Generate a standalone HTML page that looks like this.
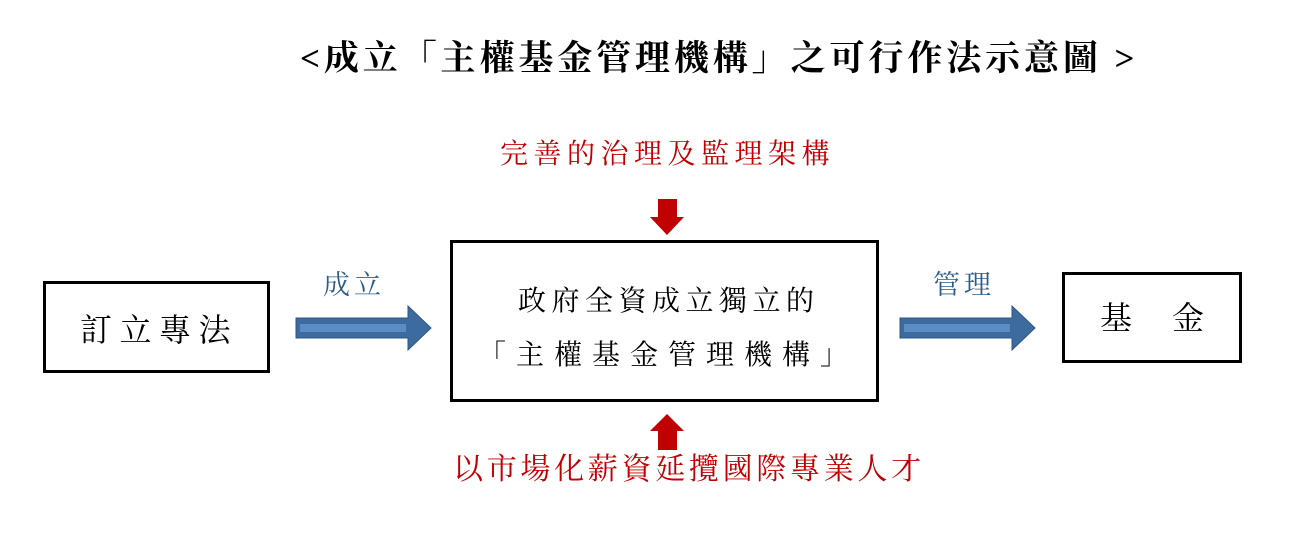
<!DOCTYPE html>
<html><head><meta charset="utf-8"><style>
body{margin:0;width:1293px;height:559px;background:#fff;position:relative;overflow:hidden;font-family:"Liberation Serif","Noto Serif CJK SC",serif}
.t{position:absolute;white-space:nowrap;line-height:1}
.box{position:absolute;border:3px solid #000;box-sizing:border-box}
</style></head><body>
<div class="t" style="left:300px;top:41px;font-size:35px;font-weight:bold;letter-spacing:3.9px">&lt;成立「主權基金管理機構」之可行作法示意圖 &gt;</div>
<div class="t" style="left:500px;top:141px;font-size:28px;letter-spacing:5.5px;color:#c00000">完善的治理及監理架構</div>
<div class="t" style="left:453px;top:455px;font-size:30px;letter-spacing:3.7px;color:#c00000">以市場化薪資延攬國際專業人才</div>
<div class="box" style="left:43px;top:281px;width:227px;height:92px"></div>
<div class="t" style="left:80px;top:314px;font-size:32px;letter-spacing:7.5px">訂立專法</div>
<div class="box" style="left:450px;top:240px;width:429px;height:162px"></div>
<div class="t" style="left:518px;top:288px;font-size:28px;letter-spacing:5.5px">政府全資成立獨立的</div>
<div class="t" style="left:478px;top:342px;font-size:28px;letter-spacing:10px">「主權基金管理機構」</div>
<div class="box" style="left:1062px;top:272px;width:180px;height:91px"></div>
<div class="t" style="left:1100px;top:302px;font-size:32px">基　 金</div>
<div class="t" style="left:323px;top:272px;font-size:27px;letter-spacing:4px;color:#2e5c8a">成立</div>
<div class="t" style="left:933px;top:272px;font-size:27px;letter-spacing:4px;color:#2e5c8a">管理</div>
<svg width="1293" height="559" style="position:absolute;left:0;top:0">
<polygon points="296,318 408,318 408,306 431,328 408,350 408,338 296,338" fill="#3d6ba0" stroke="#2f5580" stroke-width="1"/>
<rect x="300" y="324" width="106" height="8" fill="#5b8cc4"/>
<polygon points="900,318 1012,318 1012,306 1035,328 1012,350 1012,338 900,338" fill="#3d6ba0" stroke="#2f5580" stroke-width="1"/>
<rect x="904" y="324" width="106" height="8" fill="#5b8cc4"/>
<polygon points="658,199 677,199 677,217 684,217 667,235 650,217 658,217" fill="#c00000"/>
<polygon points="658,450 677,450 677,431 684,431 667,414 650,431 658,431" fill="#c00000"/>
</svg>
</body></html>
